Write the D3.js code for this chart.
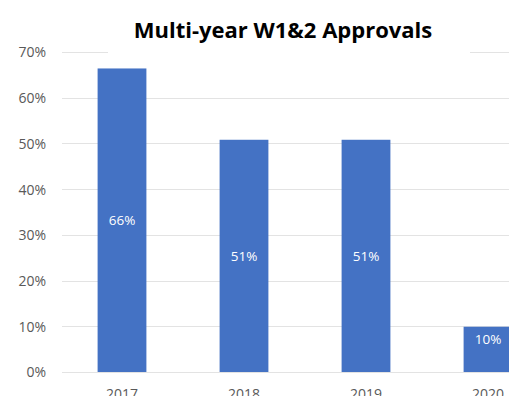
<!DOCTYPE html>
<html>
<head>
<meta charset="utf-8">
<script src="https://cdn.jsdelivr.net/npm/d3@7"></script>
<style>
  html, body { margin: 0; padding: 0; background: #fff; overflow: hidden; }
  svg { display: block; }
</style>
</head>
<body>
<div id="chart"></div>
<script>
// Data
const years = ['2017', '2018', '2019', '2020']
const approvals = [0.664, 0.508, 0.508, 0.099]
const yTicks = [0, 0.1, 0.2, 0.3, 0.4, 0.5, 0.6, 0.7]

const W = 509, H = 396
const FONT = '"Open Sans", "Liberation Sans", sans-serif'

const svg = d3.select('#chart').append('svg')
  .attr('width', W).attr('height', H)

// plot runs past the right edge, the 2020 bar is cut off in the original
const x = d3.scaleBand()
  .domain(years)
  .range([61, 549])
  .paddingInner(0.6)
  .paddingOuter(0.3)

const y = d3.scaleLinear()
  .domain([0, 0.7])
  .range([372, 52])

// gridlines
svg.append('g').selectAll('line')
  .data(yTicks)
  .join('line')
  .attr('x1', 62).attr('x2', W)
  .attr('y1', d => Math.round(y(d)) + 0.5).attr('y2', d => Math.round(y(d)) + 0.5)
  .attr('stroke', '#e3e3e3').attr('stroke-width', 1)

// y axis labels
svg.append('g')
  .attr('transform', 'translate(46,0)')
  .call(d3.axisLeft(y).tickValues(yTicks).tickFormat(d3.format('.0%')).tickSize(0))
  .call(g => {
    g.select('.domain').remove()
    g.selectAll('.tick text')
      .attr('x', 0).attr('dy', '0.35em')
      .attr('fill', '#595959').attr('font-size', '14px')
      .attr('font-family', FONT)
  })

// bars
svg.append('g').selectAll('rect')
  .data(approvals)
  .join('rect')
  .attr('x', (d, i) => x(years[i]))
  .attr('y', d => y(d))
  .attr('width', x.bandwidth())
  .attr('height', d => y(0) - y(d))
  .attr('fill', '#4472c4')

// data labels
svg.append('g').selectAll('text')
  .data(approvals)
  .join('text')
  .attr('x', (d, i) => x(years[i]) + x.bandwidth() / 2)
  .attr('y', d => d < 0.2 ? y(d) + 13 : (y(d) + y(0)) / 2)
  .attr('dy', '0.35em')
  .attr('text-anchor', 'middle')
  .attr('fill', '#ffffff').attr('font-size', '13.5px')
  .attr('font-family', FONT)
  .text(d => d3.format('.0%')(d))

// x axis labels
svg.append('g')
  .attr('transform', 'translate(0,372)')
  .call(d3.axisBottom(x).tickSize(0))
  .call(g => {
    g.select('.domain').remove()
    g.selectAll('.tick text')
      .attr('y', 17).attr('dy', '0.71em')
      .attr('fill', '#595959').attr('font-size', '14px')
      .attr('font-family', FONT)
  })

// title, on a white backing that hides the top gridline
svg.append('rect')
  .attr('x', 108).attr('y', 10)
  .attr('width', 362).attr('height', 44)
  .attr('fill', '#fff')
svg.append('text')
  .attr('x', 283).attr('y', 38)
  .attr('text-anchor', 'middle')
  .attr('fill', '#000').attr('font-size', '22px').attr('font-weight', 'bold')
  .attr('font-family', FONT)
  .text('Multi-year W1&2 Approvals')
</script>
</body>
</html>
